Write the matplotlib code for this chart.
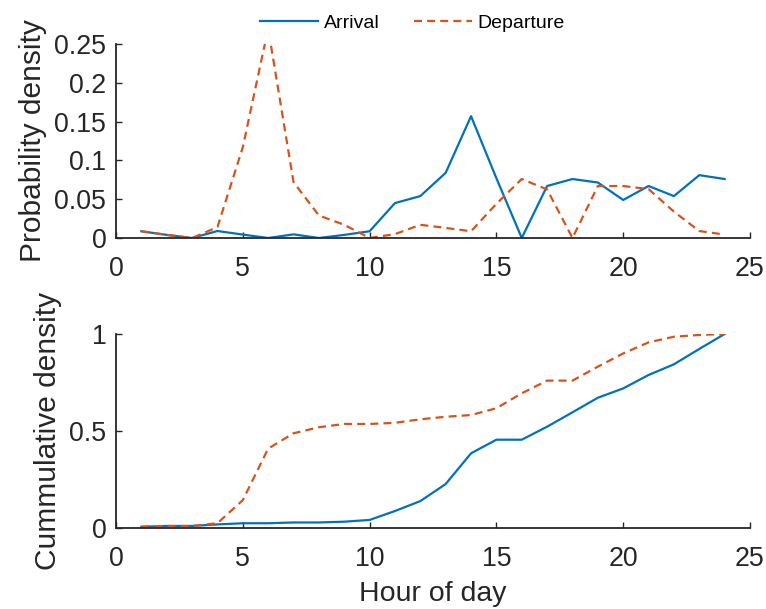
import matplotlib
matplotlib.use("Agg")
import matplotlib.pyplot as plt

hours = list(range(1, 25))

arrival_pdf = [0.0087, 0.004, 0.0, 0.009, 0.0044, 0.0, 0.0047, 0.0, 0.004, 0.0087,
               0.045, 0.054, 0.084, 0.157, 0.077, 0.0, 0.067, 0.076, 0.0715, 0.049,
               0.067, 0.054, 0.081, 0.076]
departure_pdf = [0.0087, 0.004, 0.0, 0.014, 0.117, 0.27, 0.072, 0.029, 0.017, 0.0,
                 0.005, 0.017, 0.013, 0.0087, 0.044, 0.076, 0.0625, 0.0, 0.067, 0.067,
                 0.063, 0.034, 0.009, 0.0044]

arrival_cdf = [0.008, 0.012, 0.012, 0.02, 0.026, 0.026, 0.03, 0.03, 0.034, 0.043,
               0.089, 0.14, 0.228, 0.386, 0.456, 0.456, 0.523, 0.597, 0.672, 0.72,
               0.789, 0.844, 0.923, 1.0]
departure_cdf = [0.008, 0.012, 0.012, 0.026, 0.145, 0.41, 0.489, 0.52, 0.537, 0.537,
                 0.543, 0.561, 0.574, 0.583, 0.618, 0.695, 0.76, 0.76, 0.832, 0.9,
                 0.957, 0.986, 0.995, 1.0]

xticks = [0, 5, 10, 15, 20, 25]
top_yticks = [0, 0.05, 0.1, 0.15, 0.2, 0.25]
top_yticklabels = ["0", "0.05", "0.1", "0.15", "0.2", "0.25"]
bot_yticks = [0, 0.5, 1]
bot_yticklabels = ["0", "0.5", "1"]

plt.rcParams['font.family'] = ['Liberation Sans', 'DejaVu Sans']

blue = '#0072BD'
orange = '#D95319'
axcol = '#262626'

fig = plt.figure(figsize=(7.66, 6.09), dpi=100)
W, H = 766, 609
ax1 = fig.add_axes([116 / W, 1 - 238 / H, 634 / W, 194 / H])
ax2 = fig.add_axes([116 / W, 1 - 528.3 / H, 634 / W, 194.3 / H])

dash = (0, (3.6, 2.3))
l1, = ax1.plot(hours, arrival_pdf, color=blue, lw=1.6, label='Arrival')
l2, = ax1.plot(hours, departure_pdf, color=orange, lw=1.6, linestyle=dash, label='Departure')
ax2.plot(hours, arrival_cdf, color=blue, lw=1.6)
ax2.plot(hours, departure_cdf, color=orange, lw=1.6, linestyle=dash)

for ax, yt, ytl in [(ax1, top_yticks, top_yticklabels), (ax2, bot_yticks, bot_yticklabels)]:
    ax.set_xlim(0, 25)
    ax.set_ylim(yt[0], yt[-1])
    ax.set_xticks(xticks)
    ax.set_xticklabels([str(t) for t in xticks])
    ax.set_yticks(yt)
    ax.set_yticklabels(ytl)
    for s in ['top', 'right']:
        ax.spines[s].set_visible(False)
    for s in ['left', 'bottom']:
        ax.spines[s].set_color(axcol)
        ax.spines[s].set_linewidth(1.3)
    ax.tick_params(axis='both', direction='in', length=4.5, width=1.0, color=axcol,
                   labelcolor=axcol, labelsize=19.3)
    ax.tick_params(axis='x', pad=13)
    ax.tick_params(axis='y', pad=7)

ax1.set_ylabel('Probability density', fontsize=21.5, color=axcol, labelpad=5)
ax2.set_ylabel('Cummulative density', fontsize=21.5, color=axcol, labelpad=5)
ax2.set_xlabel('Hour of day', fontsize=20.5, color=axcol, labelpad=6)

fig.legend(handles=[l1, l2], labels=['Arrival', 'Departure'], loc='center',
           bbox_to_anchor=(412.5 / W, 1 - 23 / H), ncol=2, frameon=False,
           fontsize=14, handlelength=2.95, handletextpad=0.3, columnspacing=1.8,
           borderpad=0, borderaxespad=0)

fig.savefig('out.png', dpi=100)
